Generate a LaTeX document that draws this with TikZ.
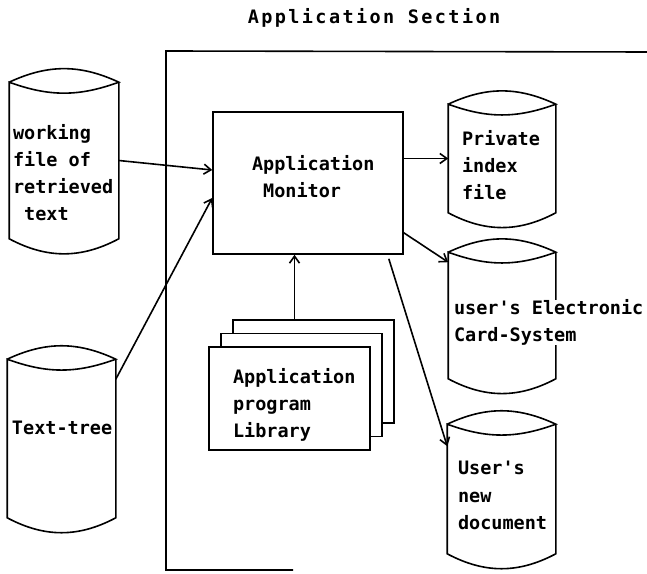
\documentclass[tikz,border=0pt]{standalone}
\usepackage{fontspec}
\newfontfamily\diagfont{DejaVu Sans Mono}
\newfontfamily\titlefont[LetterSpace=13]{DejaVu Sans Mono}
\usetikzlibrary{arrows.meta}

\newcommand{\pagenum}{3}
\newcommand{\drawdrum}[1]{%
	\draw (#1.north west) to[out=25,in=155] (#1.north east)
		to[out=-160,in=-20] (#1.north west) -- (#1.south west)
		to[out=-28,in=-152] (#1.south east) -- (#1.north east);
}

\begin{document}
\begin{tikzpicture}[x=1pt, y=1pt,
	line width=1.6pt,
	>={Straight Barb[length=7pt,width=10pt]},
	drum/.style={rectangle, inner sep=0pt},
	label text/.style={inner sep=0pt, align=left,
		font=\diagfont\bfseries\fontsize{18.5}{27}\selectfont}
]
\useasboundingbox (0,0) rectangle (647,573);

% Title and section frame
\node[inner sep=0pt, font=\titlefont\bfseries\fontsize{18.5}{22}\selectfont]
	(Title) at (374,555) {Application Section};
\draw (647,521) -- (166,522) -- (166,3) -- (293,3);

% Application Monitor
\node[draw, minimum width=190pt, minimum height=142pt] (Monitor) at (308,390) {};
\node[label text, anchor=west] at ([xshift=39pt,yshift=6.5pt]Monitor.west)
	{Application\\~Monitor};

% Program library pages
\foreach \i in {\pagenum,...,1}
{
	\node[draw, fill=white,
		minimum width=161pt,
		minimum height=103pt
	] (Page-\i) at (289.5+12*\i-12,174.5+13.5*\i-13.5) {};
}
\node[label text, anchor=west] at ([xshift=24pt,yshift=-6pt]Page-1.west)
	{Application\\program\\Library};

% Files
\node[drum, minimum width=108pt, minimum height=155pt] (WorkFile) at (64,412.5) {};
\node[drum, minimum width=107pt, minimum height=157pt] (TextTree) at (61.5,134.5) {};
\node[drum, minimum width=106pt, minimum height=107pt] (IndexFile) at (502,414.5) {};
\node[drum, minimum width=106pt, minimum height=125pt] (CardFile) at (502,257.5) {};
\node[drum, minimum width=107pt, minimum height=128pt] (NewDoc) at (501.5,84) {};
\foreach \f in {WorkFile,TextTree,IndexFile,CardFile,NewDoc}
{
	\drawdrum{\f}
}

\node[label text, anchor=west] at ([xshift=3pt,yshift=-12pt]WorkFile.west)
	{working\\file of\\retrieved\\~text};
\node[label text, anchor=west] at ([xshift=4pt,yshift=10.5pt]TextTree.west)
	{Text-tree};
\node[label text, anchor=west] at ([xshift=13pt,yshift=-6.5pt]IndexFile.west)
	{Private\\index\\file};
\node[label text, anchor=west, fill=white] at ([xshift=5pt,yshift=-7pt]CardFile.west)
	{user's Electronic\\Card-System};
\node[label text, anchor=west, font=\diagfont\bfseries\fontsize{18.5}{27.5}\selectfont]
	at ([xshift=10pt,yshift=-6.5pt]NewDoc.west)
	{User's\\new\\document};

% Inputs to the monitor
\draw[->] (WorkFile.east) -- ([yshift=13pt]Monitor.west);
\draw[->] ([yshift=-20pt]TextTree.north east) -- ([yshift=-15pt]Monitor.west);
\draw[->] ([xshift=-19pt]Page-\pagenum.north)
	-- ([xshift=-19pt]Page-\pagenum.north |- Monitor.south);

% Outputs of the monitor
\draw[->] (Monitor.east |- IndexFile.west) -- (IndexFile.west);
\draw[->] ([yshift=22pt]Monitor.south east) -- ([yshift=-10pt]CardFile.north west);
\draw[->] ([xshift=-15pt,yshift=-4pt]Monitor.south east) -- ([yshift=-22pt]NewDoc.north west);

\end{tikzpicture}
\end{document}
